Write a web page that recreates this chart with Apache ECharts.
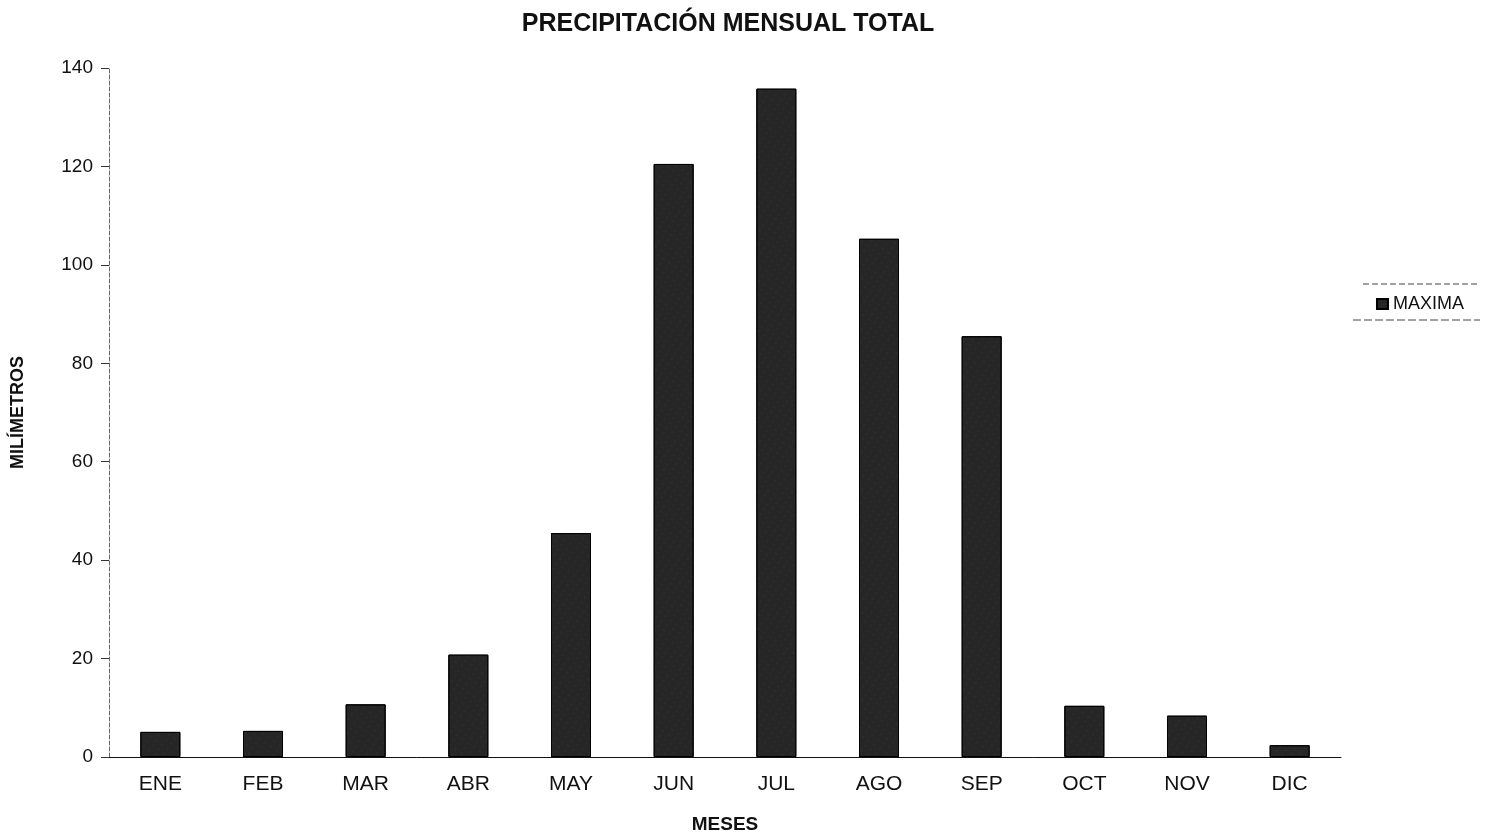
<!DOCTYPE html>
<html><head><meta charset="utf-8">
<script src="https://cdn.jsdelivr.net/npm/echarts@6/dist/echarts.min.js"></script>
<style>html,body{margin:0;padding:0;background:#fff}#c{width:1495px;height:837px}</style>
</head><body><div id="c"></div>
<script>
const categories = ['ENE','FEB','MAR','ABR','MAY','JUN','JUL','AGO','SEP','OCT','NOV','DIC'];
const maxima = [5.1, 5.3, 10.7, 20.8, 45.5, 120.5, 135.8, 105.3, 85.5, 10.4, 8.4, 2.4];
const yTicks = {min: 0, max: 140, interval: 20};

const FONT = 'Liberation Sans, Arial';
const chart = echarts.init(document.getElementById('c'));
chart.setOption({
  backgroundColor: '#fff',
  animation: false,
  title: {
    text: 'PRECIPITACIÓN MENSUAL TOTAL',
    left: 723, top: 7, textAlign: 'center',
    textStyle: {fontFamily: FONT, fontWeight: 'bold', fontSize: 25, color: '#111'}
  },
  legend: {
    data: ['MAXIMA'],
    right: 26, top: 290,
    itemWidth: 11, itemHeight: 10, itemGap: 4,
    icon: 'rect',
    textStyle: {fontFamily: FONT, fontSize: 18, color: '#111'}
  },
  grid: {left: 109, right: 154, top: 68, bottom: 80, containLabel: false, outerBoundsMode: 'none'},
  xAxis: {
    type: 'category',
    data: categories,
    name: 'MESES',
    nameLocation: 'middle',
    nameGap: 58,
    nameTextStyle: {fontFamily: FONT, fontWeight: 'bold', fontSize: 19, color: '#111'},
    axisLine: {lineStyle: {color: '#111', width: 1}},
    axisTick: {show: false},
    axisLabel: {fontFamily: FONT, fontSize: 21, color: '#111', margin: 17}
  },
  yAxis: {
    type: 'value',
    min: yTicks.min, max: yTicks.max, interval: yTicks.interval,
    name: 'MILÍMETROS',
    nameLocation: 'middle',
    nameGap: 82,
    nameTextStyle: {fontFamily: FONT, fontWeight: 'bold', fontSize: 18, color: '#111'},
    axisLine: {show: true, lineStyle: {color: '#666', type: 'dashed', width: 1}},
    axisTick: {show: true, inside: false, length: 8, lineStyle: {color: '#333'}},
    splitLine: {show: false},
    axisLabel: {fontFamily: FONT, fontSize: 19, color: '#111', margin: 16}
  },
  series: [{
    name: 'MAXIMA',
    type: 'bar',
    data: maxima,
    barWidth: 40,
    itemStyle: {
      color: '#262626',
      borderColor: '#000',
      borderWidth: 1,
      decal: {symbol: 'rect', symbolSize: 0.3, color: 'rgba(255,255,255,0.4)', dashArrayX: [2, 5], dashArrayY: [2, 4], rotation: 0.6}
    }
  }],
  graphic: [
    {type: 'line', shape: {x1: 1363, y1: 284, x2: 1477, y2: 284}, style: {stroke: '#444', lineWidth: 1, lineDash: [6, 3]}},
    {type: 'line', shape: {x1: 1353, y1: 320, x2: 1480, y2: 320}, style: {stroke: '#444', lineWidth: 1, lineDash: [8, 3]}}
  ]
});
</script></body></html>
